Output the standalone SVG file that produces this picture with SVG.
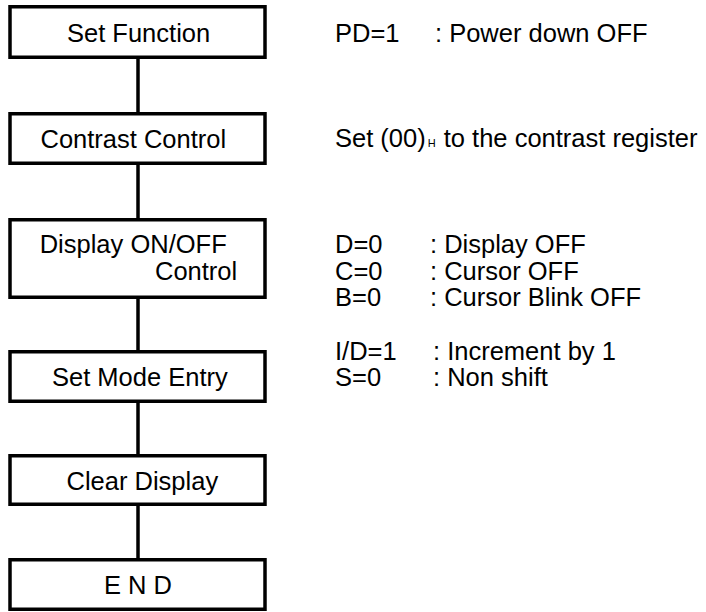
<svg xmlns="http://www.w3.org/2000/svg" width="706" height="612" viewBox="0 0 706 612">
<style>
.box{fill:#fff;stroke:#000;stroke-width:3.5}
.t{font-family:"Liberation Sans",Arial,sans-serif;font-size:25.5px;fill:#000}
.wire{stroke:#000;stroke-width:3.5;fill:none}
</style>
<rect width="706" height="612" fill="#fff"/>
<g id="connectors">
<line class="wire" x1="138" y1="59" x2="138" y2="112"/>
<line class="wire" x1="138" y1="165" x2="138" y2="218"/>
<line class="wire" x1="138" y1="299" x2="138" y2="350"/>
<line class="wire" x1="138" y1="403" x2="138" y2="454"/>
<line class="wire" x1="138" y1="506" x2="138" y2="558"/>
</g>
<g id="set-function">
<rect class="box" x="10" y="6.75" width="255" height="50.5"/>
<text class="t" x="67" y="41.7">Set Function</text>
</g>
<g id="contrast-control">
<rect class="box" x="10" y="113.75" width="255" height="49.5"/>
<text class="t" x="40.5" y="147.5">Contrast Control</text>
</g>
<g id="display-control">
<rect class="box" x="10" y="219.75" width="255" height="77.5"/>
<text class="t" x="39.7" y="253">Display ON/OFF</text>
<text class="t" x="155" y="280">Control</text>
</g>
<g id="set-mode-entry">
<rect class="box" x="10" y="351.75" width="255" height="49.5"/>
<text class="t" x="52" y="385.5">Set Mode Entry</text>
</g>
<g id="clear-display">
<rect class="box" x="10" y="455.75" width="255" height="48.5"/>
<text class="t" x="66.5" y="489.5">Clear Display</text>
</g>
<g id="end">
<rect class="box" x="10" y="559.75" width="255" height="49.5"/>
<text class="t" x="104" y="593.5">E N D</text>
</g>
<g id="notes">
<text class="t" x="335" y="41.7">PD=1</text>
<text class="t" x="435" y="41.7">: Power down OFF</text>
<text class="t" x="335" y="147">Set (00)<tspan font-size="11" dx="2">H</tspan><tspan dx="1"> to the contrast register</tspan></text>
<text class="t" x="335" y="253">D=0</text>
<text class="t" x="430" y="253">: Display OFF</text>
<text class="t" x="335" y="279.5">C=0</text>
<text class="t" x="430" y="279.5">: Cursor OFF</text>
<text class="t" x="335" y="306">B=0</text>
<text class="t" x="430" y="306">: Cursor Blink OFF</text>
<text class="t" x="335" y="360">I/D=1</text>
<text class="t" x="433" y="360">: Increment by 1</text>
<text class="t" x="335" y="385.5">S=0</text>
<text class="t" x="433" y="385.5">: Non shift</text>
</g>
</svg>
